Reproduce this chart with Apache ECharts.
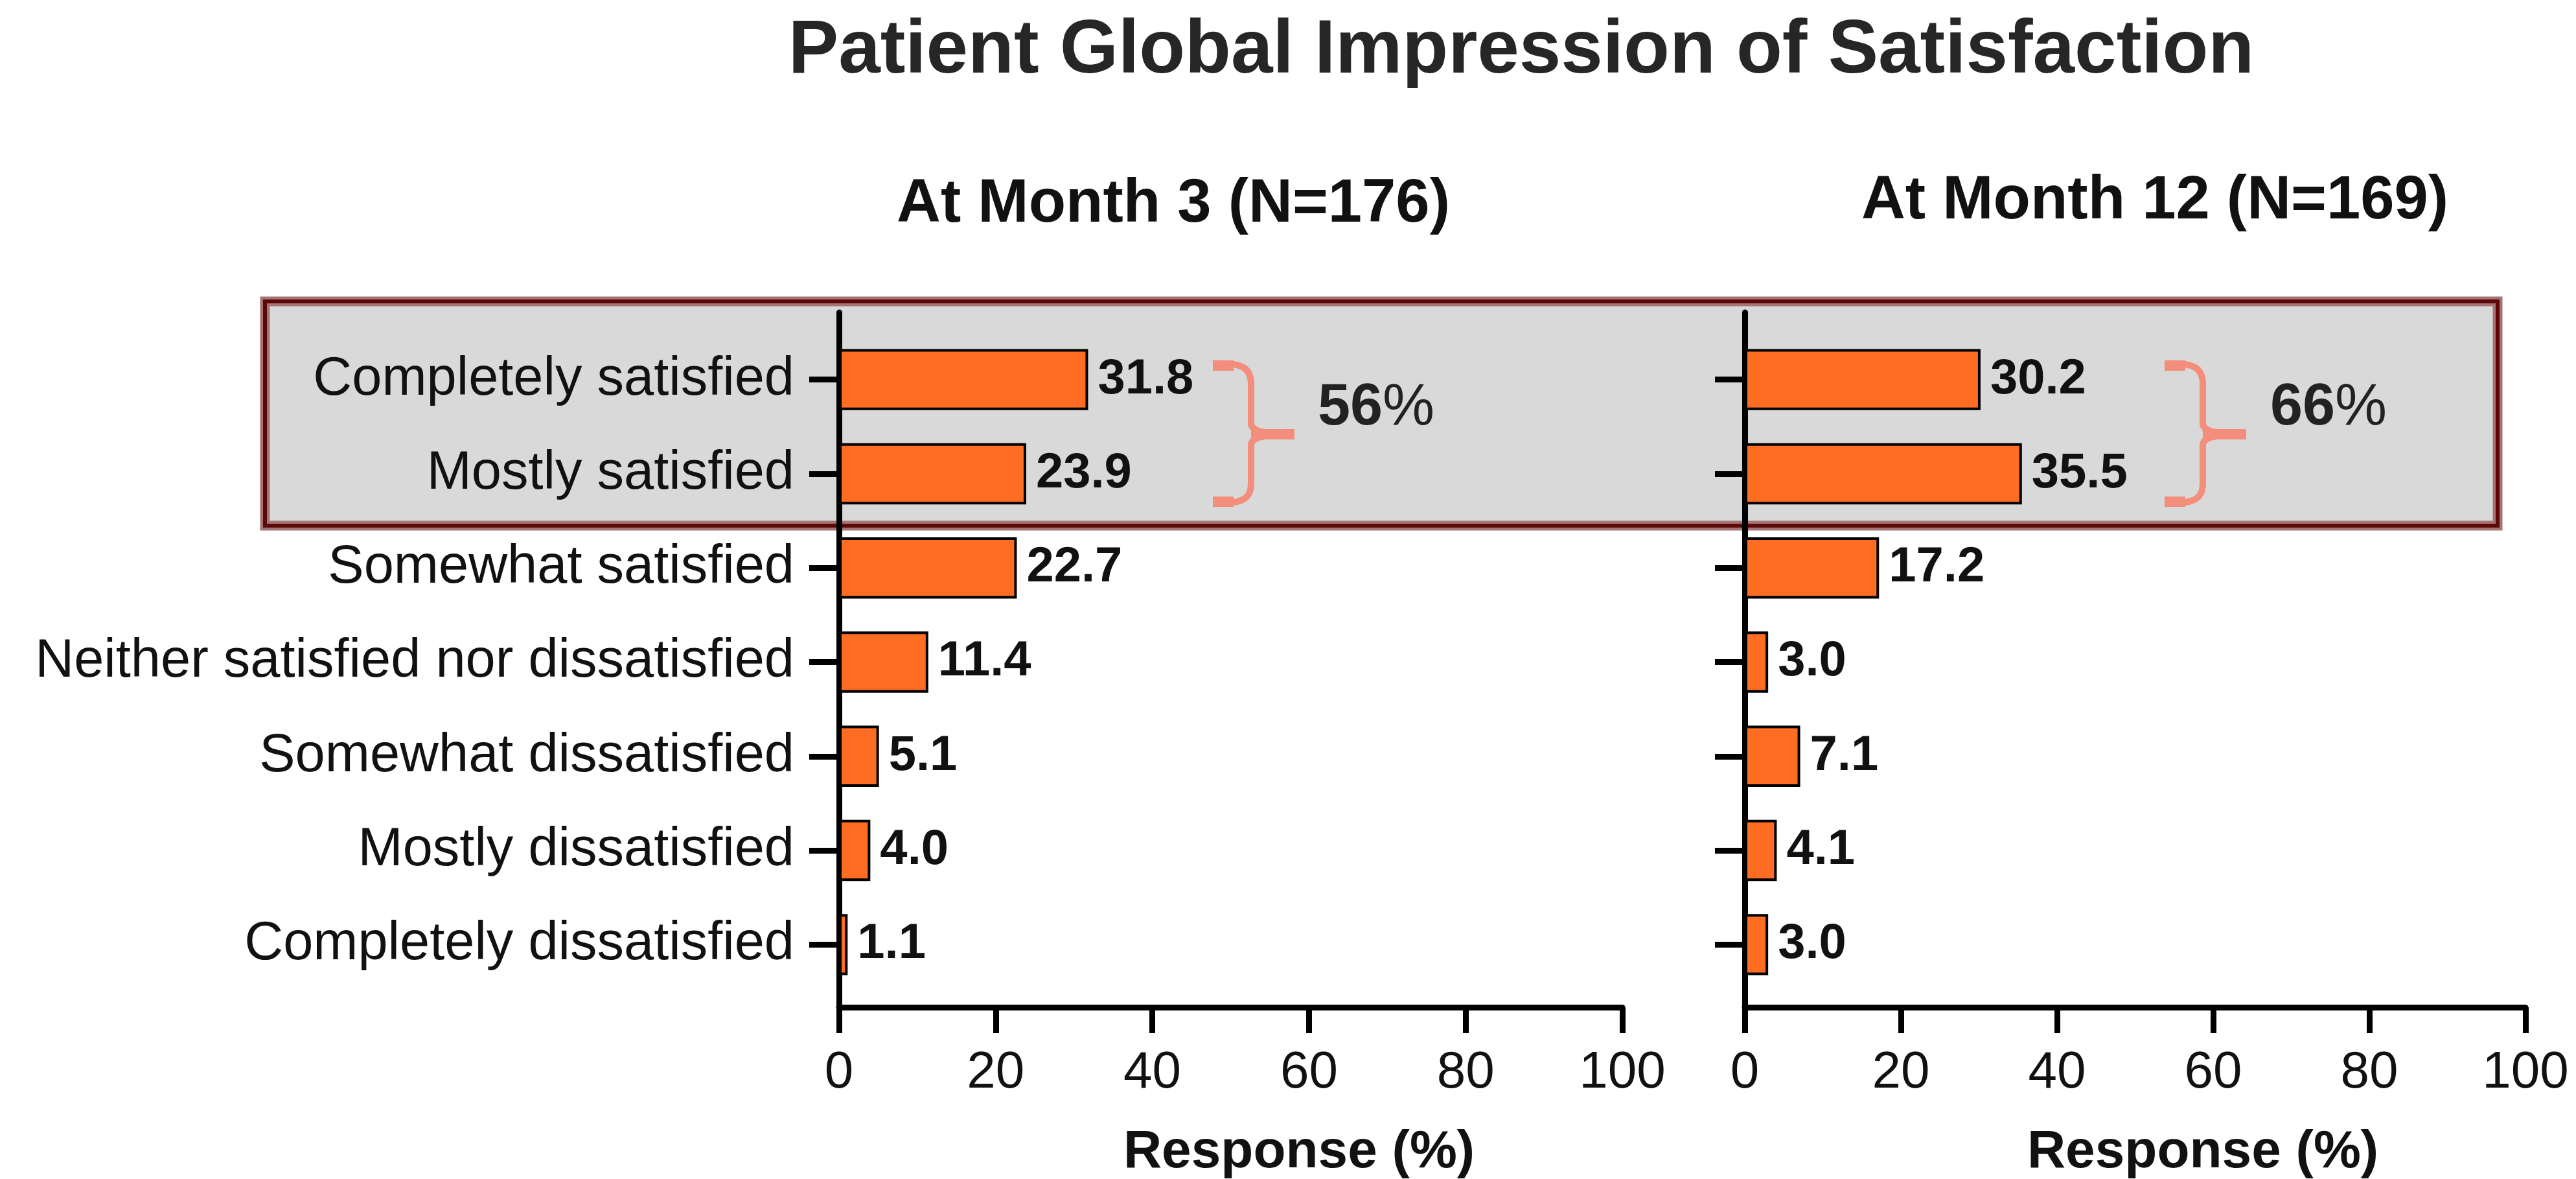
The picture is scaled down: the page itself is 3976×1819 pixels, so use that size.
<!DOCTYPE html>
<html>
<head>
<meta charset="utf-8">
<script src="https://cdn.jsdelivr.net/npm/echarts@6/dist/echarts.min.js"></script>
<style>
html,body{margin:0;padding:0;background:#fff;}
#chart{width:3976px;height:1819px;}
</style>
</head>
<body>
<div id="chart"></div>
<script>
const chartTitle = 'Patient Global Impression of Satisfaction';
const categories = ['Completely satisfied', 'Mostly satisfied', 'Somewhat satisfied',
  'Neither satisfied nor dissatisfied', 'Somewhat dissatisfied', 'Mostly dissatisfied',
  'Completely dissatisfied'];
const month3Values = [31.8, 23.9, 22.7, 11.4, 5.1, 4.0, 1.1];
const month12Values = [30.2, 35.5, 17.2, 3.0, 7.1, 4.1, 3.0];
const panelTitles = ['At Month 3 (N=176)', 'At Month 12 (N=169)'];
const groupTotals = [56, 66];
const axisTitle = 'Response (%)';
const xMin = 0, xMax = 100, xInterval = 20;

const FONT = '"Liberation Sans", Arial, sans-serif';
const BAR_COLOR = '#FF6D22';
const BRACE_COLOR = '#F38D7C';

const chart = echarts.init(document.getElementById('chart'), null, {renderer: 'canvas'});

const panels = [
  {left: 1295, width: 1209, values: month3Values, showLabels: true},
  {left: 2693, width: 1205, values: month12Values, showLabels: false}
];

const grids = [], xAxes = [], yAxes = [], series = [];
panels.forEach((p, i) => {
  // frame grid (axis lines, x ticks and labels)
  grids.push({left: p.left, width: p.width, top: 482, height: 1072, outerBoundsMode: 'none'});
  // bar grid
  grids.push({left: p.left, width: p.width, top: 513, height: 1017, outerBoundsMode: 'none'});
  const fg = i * 2, bg = i * 2 + 1;
  xAxes.push({
    gridIndex: fg, type: 'value', min: xMin, max: xMax, interval: xInterval,
    axisLine: {show: true, lineStyle: {color: '#000', width: 9}},
    axisTick: {show: true, length: 40, lineStyle: {color: '#000', width: 9}},
    axisLabel: {show: true, fontSize: 80, margin: 62, color: '#111', fontFamily: FONT},
    splitLine: {show: false}
  });
  xAxes.push({gridIndex: bg, type: 'value', min: xMin, max: xMax, show: false});
  yAxes.push({
    gridIndex: fg, type: 'value', min: 0, max: 1,
    axisLine: {show: true, lineStyle: {color: '#000', width: 9}},
    axisTick: {show: false}, axisLabel: {show: false}, splitLine: {show: false}
  });
  yAxes.push({
    gridIndex: bg, type: 'category', data: categories, inverse: true,
    axisLine: {show: false},
    axisTick: {show: true, alignWithLabel: true, length: 46, lineStyle: {color: '#000', width: 9}},
    axisLabel: {show: p.showLabels, fontSize: 83, margin: 69, color: '#111', fontFamily: FONT},
    splitLine: {show: false}
  });
  series.push({
    type: 'bar', xAxisIndex: bg, yAxisIndex: bg, data: p.values, barWidth: '65%',
    itemStyle: {color: BAR_COLOR, borderColor: '#000', borderWidth: 4},
    label: {
      show: true, position: 'right', distance: 15, fontSize: 76, fontWeight: 'bold',
      color: '#111', fontFamily: FONT,
      formatter: (d) => d.value.toFixed(1)
    },
    z: 3
  });
});

function brace(x0, y0) {
  const v = 59, tip = 126, st = {stroke: BRACE_COLOR, lineWidth: 10, fill: null};
  const els = [
    {type: 'bezierCurve', shape: {x1: x0, y1: y0 + 6, cpx1: x0 + 45, cpy1: y0 + 4, cpx2: x0 + v, cpy2: y0 + 12, x2: x0 + v, y2: y0 + 38}, style: st},
    {type: 'line', shape: {x1: x0 + v, y1: y0 + 36, x2: x0 + v, y2: y0 + 100}, style: st},
    {type: 'bezierCurve', shape: {x1: x0 + v, y1: y0 + 98, cpx1: x0 + v, cpy1: y0 + 110, cpx2: x0 + v + 15, cpy2: y0 + 114, x2: x0 + tip, y2: y0 + 115}, style: st},
    {type: 'bezierCurve', shape: {x1: x0 + tip, y1: y0 + 115, cpx1: x0 + v + 15, cpy1: y0 + 116, cpx2: x0 + v, cpy2: y0 + 120, x2: x0 + v, y2: y0 + 132}, style: st},
    {type: 'line', shape: {x1: x0 + v, y1: y0 + 130, x2: x0 + v, y2: y0 + 192}, style: st},
    {type: 'bezierCurve', shape: {x1: x0 + v, y1: y0 + 190, cpx1: x0 + v, cpy1: y0 + 216, cpx2: x0 + 45, cpy2: y0 + 222, x2: x0, y2: y0 + 222}, style: st},
    {type: 'line', shape: {x1: x0, y1: y0 + 9, x2: x0 + 32, y2: y0 + 9}, style: {stroke: BRACE_COLOR, lineWidth: 16}},
    {type: 'line', shape: {x1: x0, y1: y0 + 219, x2: x0 + 32, y2: y0 + 219}, style: {stroke: BRACE_COLOR, lineWidth: 16}},
    {type: 'line', shape: {x1: x0 + v, y1: y0 + 115, x2: x0 + tip, y2: y0 + 115}, style: {stroke: BRACE_COLOR, lineWidth: 16}}
  ];
  els.forEach(e => { e.z = 5; e.silent = true; });
  return els;
}

const graphics = [
  {type: 'rect', z: -10, silent: true, shape: {x: 409, y: 465, width: 3446, height: 346},
   style: {fill: '#D9D9D9', stroke: '#A57575', lineWidth: 15}},
  {type: 'rect', z: -9, silent: true, shape: {x: 409, y: 465, width: 3446, height: 346},
   style: {fill: null, stroke: '#5C0808', lineWidth: 6}},
  {type: 'text', x: 2348, y: 80, z: 5, style: {text: chartTitle, fontSize: 116, fontWeight: 'bold',
    fill: '#262626', fontFamily: FONT, textAlign: 'center', textVerticalAlign: 'middle'}},
  {type: 'text', x: 1811, y: 316, z: 5, style: {text: panelTitles[0], fontSize: 94, fontWeight: 'bold',
    fill: '#111', fontFamily: FONT, textAlign: 'center', textVerticalAlign: 'middle'}},
  {type: 'text', x: 3326, y: 311, z: 5, style: {text: panelTitles[1], fontSize: 94, fontWeight: 'bold',
    fill: '#111', fontFamily: FONT, textAlign: 'center', textVerticalAlign: 'middle'}},
  {type: 'text', x: 2005, y: 1778, z: 5, style: {text: axisTitle, fontSize: 82, fontWeight: 'bold',
    fill: '#111', fontFamily: FONT, textAlign: 'center', textVerticalAlign: 'middle'}},
  {type: 'text', x: 3400, y: 1778, z: 5, style: {text: axisTitle, fontSize: 82, fontWeight: 'bold',
    fill: '#111', fontFamily: FONT, textAlign: 'center', textVerticalAlign: 'middle'}},
  {type: 'text', x: 2034, y: 630, z: 5, style: {text: '{n|' + groupTotals[0] + '}{p|%}',
    textAlign: 'left', textVerticalAlign: 'middle',
    rich: {n: {fontSize: 90, fontWeight: 'bold', fill: '#222', fontFamily: FONT},
           p: {fontSize: 90, fontWeight: 'normal', fill: '#222', fontFamily: FONT}}}},
  {type: 'text', x: 3504, y: 630, z: 5, style: {text: '{n|' + groupTotals[1] + '}{p|%}',
    textAlign: 'left', textVerticalAlign: 'middle',
    rich: {n: {fontSize: 90, fontWeight: 'bold', fill: '#222', fontFamily: FONT},
           p: {fontSize: 90, fontWeight: 'normal', fill: '#222', fontFamily: FONT}}}}
].concat(brace(1872, 555), brace(3341, 555));

chart.setOption({
  animation: false,
  backgroundColor: '#ffffff',
  textStyle: {fontFamily: FONT},
  grid: grids,
  xAxis: xAxes,
  yAxis: yAxes,
  series: series,
  graphic: {elements: graphics}
});
</script>
</body>
</html>
